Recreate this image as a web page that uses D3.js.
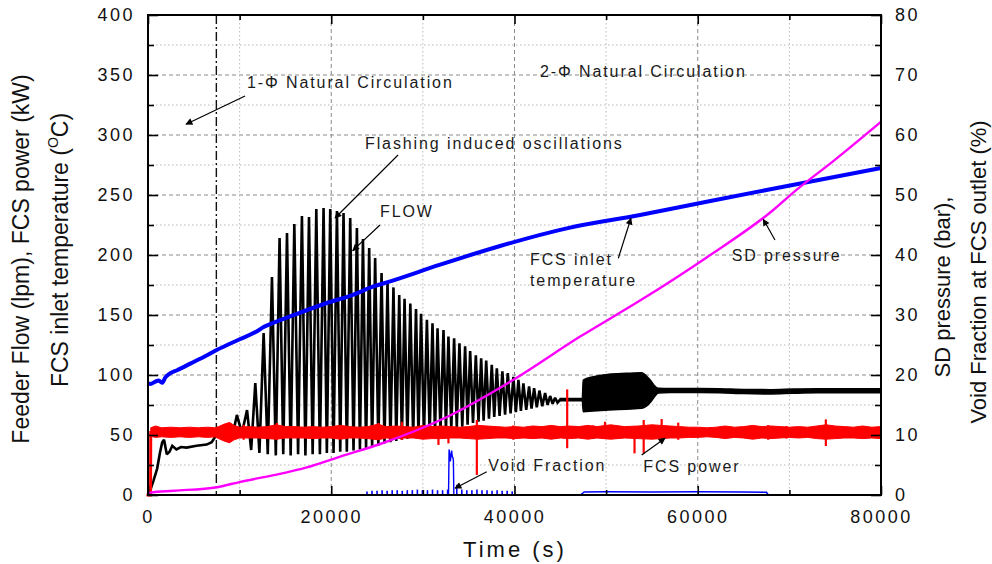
<!DOCTYPE html>
<html>
<head>
<meta charset="utf-8">
<script src="https://cdn.jsdelivr.net/npm/d3@7"></script>
<style>
  body { margin: 0; background: #fff; }
  svg { display: block; font-family: "Liberation Sans", Arial, sans-serif; }
</style>
</head>
<body>
<svg id="chart" width="992" height="564"></svg>
<script>
// ---- axis ticks ----
const xTicksMajor = [0, 20000, 40000, 60000, 80000];
const xTicksMinor = [10000, 30000, 50000, 70000];
const yLeftMajor = [0, 50, 100, 150, 200, 250, 300, 350, 400];
const yLeftMinor = [25, 75, 125, 175, 225, 275, 325, 375];
const yRightMajor = [0, 10, 20, 30, 40, 50, 60, 70, 80];
const yRightMinor = [5, 15, 25, 35, 45, 55, 65, 75];

// boundary between single-phase and two-phase natural circulation (s)
const phaseBoundary = [7460];

// ---- Feeder flow (lpm): start-up, then flashing-induced oscillation peaks/troughs ----
const flowT = [0, 200, 600, 1000, 1300, 1550, 1750, 2050, 2350, 2650, 3100, 3600, 4200, 5300, 6400, 6950, 7300, 7700, 8100, 8500, 8900, 9300,
  9700, 10250, 10810, 11260, 11710, 12160, 12620, 13070, 13530, 13950, 14360, 14760, 15170, 15570, 15970, 16380, 16800, 17180,
  17570, 17970, 18370, 18760, 19160, 19520, 19890, 20250, 20620, 20980, 21340, 21700, 22070, 22430, 22800, 23130, 23460, 23800,
  24140, 24460, 24790, 25140, 25490, 25810, 26140, 26460, 26790, 27100, 27420, 27710, 28000, 28310, 28630, 28940, 29250, 29520,
  29800, 30120, 30440, 30740, 31050, 31320, 31600, 31920, 32250, 32520, 32790, 33100, 33410, 33700, 33990, 34300, 34610, 34880,
  35160, 35470, 35780, 36070, 36360, 36630, 36910, 37210, 37520, 37790, 38070, 38370, 38680, 38970, 39270, 39570, 39880, 40150,
  40430, 40700, 40970, 41280, 41590, 41860, 42140, 42430, 42720, 43030, 43340, 43610, 43890, 44160, 44430, 44700, 44980];
const flowV = [0, 3, 12, 22, 35, 44, 46, 34, 36, 41, 38, 40, 39.5, 41, 42, 44, 48, 51, 49, 52, 49.5, 52,
  66.7, 51.5, 70.8, 37.5, 93.3, 35, 135, 34, 181.7, 33, 214.2, 34, 218.3, 33, 225.8, 34, 232.5, 33,
  231.7, 34, 238.3, 34, 239.2, 35, 238.3, 35, 236.7, 36, 235, 36, 230.8, 37, 222.5, 38, 213.3, 39,
  205.8, 40, 197.5, 41, 185, 43, 178, 44, 173, 45, 166.7, 46, 163.5, 47, 159.5, 48, 155, 49,
  151, 50, 146, 51, 143, 52, 139, 53, 137.5, 54, 132, 55, 130.5, 56, 126.5, 57, 124, 58.5,
  120, 60, 116.5, 61, 114, 62, 112, 63.5, 108.5, 65, 105.5, 66, 103, 67, 101.5, 68, 98.5, 69,
  96, 70, 93, 71, 90.5, 72, 89, 73, 87, 74, 85, 75, 82.5, 76, 81, 77, 79.5];

// later flow: fast small oscillation, given as its upper / lower envelope
const flowBandT = [44980, 47400, 47500, 48600, 50300, 52200, 53900, 54400, 54900, 55200, 55700, 57000, 60000, 62400, 65000, 68000, 70400, 73000, 76000, 80000];
const flowBandHi = [80.5, 80.5, 95.8, 98.6, 100.6, 101.4, 101.9, 99.2, 95, 91.7, 89, 88.8, 88.8, 88.6, 88, 87.8, 88.3, 88.6, 88.6, 88.6];
const flowBandLo = [78.5, 78.5, 69.4, 70, 70.8, 71.5, 72.2, 74, 77.8, 81, 85, 85.5, 85.5, 85.3, 84.5, 84.2, 84.8, 85.2, 85.2, 85.2];

// ---- FCS power (kW): switch-on, then noisy band given by its envelope ----
const powerStartT = [0, 280, 300];
const powerStartV = [0, 0, 52];
const powerT = [300, 800, 1500, 2500, 3500, 4500, 5500, 6500, 7300, 7700, 8300, 8900, 9400, 10000, 11000, 12000, 13000, 14000,
  15000, 16000, 17000, 18000, 19000, 20000, 21000, 22000, 23000, 24000, 25100, 26000, 27000, 28000, 29000, 30000, 31000,
  32000, 33000, 34000, 35000, 36000, 37000, 38000, 39000, 40000, 41000, 42000, 43000, 44000, 45000, 46000, 47000, 48000,
  49000, 50500, 52000, 53500, 55000, 56000, 57000, 58000, 59000, 60000, 61000, 62000, 63000, 64000, 65000, 66000, 67000,
  68000, 69000, 70000, 71000, 72000, 73000, 74000, 75000, 76000, 77000, 78000, 79000, 80000];
const powerHi = [56, 57.5, 56, 56.5, 56, 56.5, 56, 56.5, 56, 57, 59, 60.5, 58, 56.5, 57, 56.5, 57, 58.5,
  57, 57, 56.5, 57, 56.5, 57, 58, 57, 56.5, 57, 59, 57, 57.5, 57, 56.5, 58, 57,
  57.5, 57, 56.5, 57, 58, 57.5, 57, 56.5, 57, 56.5, 57.5, 57, 58, 57, 57.5, 57, 58,
  57, 58.5, 57, 57.5, 58.5, 58, 57.5, 57, 56.5, 56.5, 56, 56.5, 57.5, 56.5, 57, 58, 57,
  57.5, 57, 56.5, 57, 56.5, 57.5, 58.5, 57.5, 57, 56.5, 57.5, 56.5, 57];
const powerLo = [49, 48, 48.5, 48, 48.5, 48, 48.5, 48, 48.5, 47, 45, 43.5, 46, 47.5, 47.5, 47.5, 47, 46.5,
  47.5, 47.5, 47.5, 47, 47.5, 47.5, 46.5, 47.5, 47.5, 47, 46, 47.5, 47, 47.5, 47.5, 46.5, 47,
  47, 47.5, 47.5, 47, 46.5, 47, 47.5, 47.5, 47, 47.5, 47, 47.5, 46.5, 47.5, 47, 47.5, 46.5,
  47.5, 46.5, 47.5, 47, 46.5, 47, 47.5, 47.5, 48, 48, 48.5, 48, 47, 48, 47.5, 46.5, 47.5,
  47, 47.5, 48, 47.5, 48, 47, 46.5, 47, 47.5, 47.5, 47, 47.5, 47];
// isolated excursions of the power signal
const powerSpikeT = [10440, 14080, 25160, 27710, 31700, 32790, 35890, 39880, 45750, 48600, 49880, 53100, 54100, 56060, 57870, 67690, 69690, 73980];
const powerSpikeHi = [58.5, 60, 60, 61, 56, 57, 62.5, 58, 88, 58, 61, 56, 62.5, 63.3, 60.3, 58.3, 57.5, 63];
const powerSpikeLo = [46, 46, 46, 46, 41.7, 43, 16.7, 46, 39, 47, 47, 34.7, 34.7, 47, 46, 46, 47, 40.8];

// ---- FCS inlet temperature (deg C) ----
const tempT = [0, 260, 810, 1170, 1540, 1900, 2440, 3170, 4620, 6440, 7540, 10070, 11900, 12620, 13530, 16260, 19530, 22430, 24540, 26340, 31800, 38430, 45700, 53700, 60970, 67510, 80000];
const tempV = [93, 92.5, 94.5, 95.5, 93.5, 98, 101.5, 104, 109.5, 116.5, 121, 130, 136.5, 140, 143, 151, 160, 167, 173.6, 177.8, 191.7, 207.5, 222.2, 233.3, 244.4, 254.2, 272.5];

// ---- SD pressure (bar, right axis) ----
const pressT = [0, 260, 2800, 7540, 10080, 13710, 17350, 20980, 25340, 32620, 39880, 47160, 53700, 60970, 68240, 70420, 75000, 80000];
const pressV = [0.3, 0.4, 0.7, 1.3, 2.2, 3.3, 4.6, 6.4, 8.5, 13, 19.2, 26.4, 32.4, 39.6, 47.5, 50.4, 55.9, 62.2];

// ---- Void fraction at FCS outlet (%, right axis) ----
const voidPulseT = [23900, 24450, 25000, 25550, 26100, 26650, 27200, 27750, 28300, 28850, 29400, 29950, 30500, 31050, 31600, 32150, 32700, 33700, 34250, 34800, 35350, 35900, 36450, 37000, 37550, 38100, 38650, 39200, 39750];
const voidPulseV = [0.6, 0.7, 0.7, 0.8, 0.7, 0.8, 0.8, 0.7, 0.8, 0.8, 0.9, 0.8, 0.8, 0.9, 0.8, 0.8, 0.9, 1.7, 0.9, 0.8, 0.8, 0.9, 0.8, 0.8, 0.7, 0.8, 0.7, 0.7, 0.6];
const voidSpikeT = [32800, 32860, 32930, 33000, 33070, 33140, 33210, 33280, 33330, 33380];
const voidSpikeV = [0, 7.6, 6.8, 5.6, 6.6, 7.4, 6.4, 6.2, 5.8, 0];
const voidLateT = [47200, 47600, 50000, 55000, 60000, 65000, 67500, 67700];
const voidLateV = [0, 0.5, 0.55, 0.5, 0.55, 0.5, 0.45, 0];

// ---- annotations (data coordinates on the left axis) ----
const notes = [
  { text: "1-\u03A6 Natural Circulation", t: 10800, v: 339.5 },
  { text: "2-\u03A6 Natural Circulation", t: 42780, v: 348 },
  { text: "Flashing induced oscillations", t: 23680, v: 288 },
  { text: "FLOW", t: 25320, v: 231.5 },
  { text: "FCS inlet", t: 41690, v: 191.3 },
  { text: "temperature", t: 41690, v: 173.8 },
  { text: "SD pressure", t: 63700, v: 195.4 },
  { text: "Void Fraction", t: 37140, v: 19.6 },
  { text: "FCS power", t: 54060, v: 19.2 }
];
const arrows = [
  { t0: 10590, v0: 332.5, t1: 4150, v1: 309 },
  { t0: 27290, v0: 283.3, t1: 20410, v1: 230.8 },
  { t0: 25320, v0: 225, t1: 22340, v1: 203.6 },
  { t0: 51330, v0: 197.3, t1: 52710, v1: 230.6 },
  { t0: 68430, v0: 212.5, t1: 67150, v1: 229.8 },
  { t0: 36970, v0: 19.4, t1: 33510, v1: 5.6 },
  { t0: 53880, v0: 33.3, t1: 56430, v1: 47.3 }
];

// ---- layout ----
const svg = d3.select("#chart");
const L = 148, R = 881, T = 15, B = 495;
const x = d3.scaleLinear().domain([0, 80000]).range([L, R]);
const yL = d3.scaleLinear().domain([0, 400]).range([B, T]);
const yR = d3.scaleLinear().domain([0, 80]).range([B, T]);

// grid
const grid = svg.append("g");
grid.selectAll(".hmaj").data(yLeftMajor.slice(1, -1)).join("line")
  .attr("x1", L).attr("x2", R).attr("y1", d => yL(d)).attr("y2", d => yL(d))
  .attr("stroke", "#8a8a8a").attr("stroke-width", 1).attr("stroke-dasharray", "4,3");
grid.selectAll(".hmin").data(yLeftMinor).join("line")
  .attr("x1", L).attr("x2", R).attr("y1", d => yL(d)).attr("y2", d => yL(d))
  .attr("stroke", "#b8b8b8").attr("stroke-width", 1).attr("stroke-dasharray", "1.5,2.5");
grid.selectAll(".vmaj").data(xTicksMajor.slice(1, -1)).join("line")
  .attr("x1", d => x(d)).attr("x2", d => x(d)).attr("y1", T).attr("y2", B)
  .attr("stroke", "#8a8a8a").attr("stroke-width", 1).attr("stroke-dasharray", "4,3");
grid.selectAll(".vmin").data(xTicksMinor).join("line")
  .attr("x1", d => x(d)).attr("x2", d => x(d)).attr("y1", T).attr("y2", B)
  .attr("stroke", "#b8b8b8").attr("stroke-width", 1).attr("stroke-dasharray", "1.5,2.5");

// phase boundary (dash-dot)
svg.selectAll(".phase").data(phaseBoundary).join("line")
  .attr("x1", d => x(d)).attr("x2", d => x(d)).attr("y1", T).attr("y2", B)
  .attr("stroke", "#111").attr("stroke-width", 1.4).attr("stroke-dasharray", "9,3,2,3");

const plot = svg.append("g");

// feeder flow
const flowPts = flowT.map((t, i) => [t, flowV[i]]);
plot.append("path").datum(flowPts)
  .attr("fill", "none").attr("stroke", "#000").attr("stroke-width", 2.6).attr("stroke-linejoin", "miter").attr("stroke-miterlimit", 2)
  .attr("d", d3.line().x(d => x(d[0])).y(d => yL(d[1])));
const bandPts = flowBandT.map((t, i) => [t, flowBandHi[i], flowBandLo[i]]);
plot.append("path").datum(bandPts)
  .attr("fill", "#000").attr("stroke", "#000").attr("stroke-width", 1.5)
  .attr("d", d3.area().curve(d3.curveMonotoneX).x(d => x(d[0])).y0(d => yL(d[2])).y1(d => yL(d[1])));

// FCS inlet temperature
plot.append("path").datum(tempT.map((t, i) => [t, tempV[i]]))
  .attr("fill", "none").attr("stroke", "#0000ff").attr("stroke-width", 4)
  .attr("d", d3.line().curve(d3.curveMonotoneX).x(d => x(d[0])).y(d => yL(d[1])));

// FCS power
plot.append("path").datum(powerStartT.map((t, i) => [t, powerStartV[i]]))
  .attr("fill", "none").attr("stroke", "#ff0000").attr("stroke-width", 3).attr("stroke-linecap", "square")
  .attr("d", d3.line().x(d => x(d[0])).y(d => yL(d[1])));
plot.append("path").datum(powerT.map((t, i) => [t, powerHi[i], powerLo[i]]))
  .attr("fill", "#ff0000").attr("stroke", "#ff0000").attr("stroke-width", 1)
  .attr("d", d3.area().x(d => x(d[0])).y0(d => yL(d[2])).y1(d => yL(d[1])));
plot.selectAll(".pspike").data(powerSpikeT.map((t, i) => [t, powerSpikeHi[i], powerSpikeLo[i]])).join("line")
  .attr("x1", d => x(d[0])).attr("x2", d => x(d[0]))
  .attr("y1", d => yL(d[1])).attr("y2", d => yL(d[2]))
  .attr("stroke", "#ff0000").attr("stroke-width", 2.2);

// SD pressure
plot.append("path").datum(pressT.map((t, i) => [t, pressV[i]]))
  .attr("fill", "none").attr("stroke", "#ff00ff").attr("stroke-width", 2.4)
  .attr("d", d3.line().curve(d3.curveMonotoneX).x(d => x(d[0])).y(d => yR(d[1])));

// void fraction
plot.selectAll(".vpulse").data(voidPulseT.map((t, i) => [t, voidPulseV[i]])).join("line")
  .attr("x1", d => x(d[0])).attr("x2", d => x(d[0]))
  .attr("y1", yR(0)).attr("y2", d => yR(d[1]))
  .attr("stroke", "#0000ff").attr("stroke-width", 1.6);
plot.append("path").datum(voidSpikeT.map((t, i) => [t, voidSpikeV[i]]))
  .attr("fill", "none").attr("stroke", "#0000ff").attr("stroke-width", 1.4)
  .attr("d", d3.line().x(d => x(d[0])).y(d => yR(d[1])));
plot.append("path").datum(voidLateT.map((t, i) => [t, voidLateV[i]]))
  .attr("fill", "none").attr("stroke", "#0000ff").attr("stroke-width", 1.6)
  .attr("d", d3.line().x(d => x(d[0])).y(d => yR(d[1])));

// ---- axes ----
const tickFont = g => g.selectAll("text")
  .attr("font-size", 18).attr("fill", "#111").attr("letter-spacing", "2.5px")
  .attr("font-family", "'Liberation Sans', Arial, sans-serif");
const clean = g => { g.select(".domain").remove(); g.selectAll("line").attr("stroke", "#000").attr("stroke-width", 1.6); };

svg.append("g").attr("transform", `translate(${L},0)`)
  .call(d3.axisLeft(yL).tickValues(yLeftMajor).tickSizeInner(-10).tickSizeOuter(0).tickPadding(13))
  .call(clean).call(tickFont);
svg.append("g").attr("transform", `translate(${L},0)`)
  .call(d3.axisLeft(yL).tickValues(yLeftMinor).tickFormat("").tickSizeInner(-6).tickSizeOuter(0))
  .call(clean);
svg.append("g").attr("transform", `translate(${R},0)`)
  .call(d3.axisRight(yR).tickValues(yRightMajor).tickSizeInner(-10).tickSizeOuter(0).tickPadding(14))
  .call(clean).call(tickFont);
svg.append("g").attr("transform", `translate(${R},0)`)
  .call(d3.axisRight(yR).tickValues(yRightMinor).tickFormat("").tickSizeInner(-6).tickSizeOuter(0))
  .call(clean);
svg.append("g").attr("transform", `translate(0,${B})`)
  .call(d3.axisBottom(x).tickValues(xTicksMajor).tickFormat(d3.format("d")).tickSizeInner(-9).tickSizeOuter(0).tickPadding(15))
  .call(clean).call(tickFont);
svg.append("g").attr("transform", `translate(0,${B})`)
  .call(d3.axisBottom(x).tickValues(xTicksMinor).tickFormat("").tickSizeInner(-5).tickSizeOuter(0))
  .call(clean);
svg.append("g").attr("transform", `translate(0,${T})`)
  .call(d3.axisTop(x).tickValues(xTicksMajor).tickFormat("").tickSizeInner(-9).tickSizeOuter(0))
  .call(clean);
svg.append("g").attr("transform", `translate(0,${T})`)
  .call(d3.axisTop(x).tickValues(xTicksMinor).tickFormat("").tickSizeInner(-5).tickSizeOuter(0))
  .call(clean);

// frame
svg.append("rect").attr("x", L).attr("y", T).attr("width", R - L).attr("height", B - T)
  .attr("fill", "none").attr("stroke", "#000").attr("stroke-width", 2);

// ---- axis titles ----
const titleSize = 23;
svg.append("text").attr("transform", "translate(29,259) rotate(-90)")
  .attr("text-anchor", "middle").attr("font-size", titleSize).attr("fill", "#111")
  .text("Feeder Flow (lpm), FCS power (kW)");
const t2 = svg.append("text").attr("transform", "translate(68,250) rotate(-90)")
  .attr("text-anchor", "middle").attr("font-size", titleSize).attr("fill", "#111");
t2.append("tspan").text("FCS inlet temperature (");
t2.append("tspan").attr("font-size", 14).attr("dy", -10).text("O");
t2.append("tspan").attr("dy", 10).text("C)");

svg.append("text").attr("transform", "translate(950,287) rotate(-90)")
  .attr("text-anchor", "middle").attr("font-size", 22).attr("fill", "#111")
  .text("SD pressure (bar),");
svg.append("text").attr("transform", "translate(986,272) rotate(-90)")
  .attr("text-anchor", "middle").attr("font-size", 22).attr("fill", "#111")
  .text("Void Fraction at FCS outlet (%)");

svg.append("text").attr("x", 515).attr("y", 557)
  .attr("text-anchor", "middle").attr("font-size", 22).attr("letter-spacing", "3px").attr("fill", "#111")
  .text("Time (s)");

// ---- annotations ----
const defs = svg.append("defs");
defs.append("marker").attr("id", "ah").attr("viewBox", "0 0 10 10")
  .attr("refX", 9).attr("refY", 5).attr("markerWidth", 9).attr("markerHeight", 7)
  .attr("markerUnits", "userSpaceOnUse").attr("orient", "auto")
  .append("path").attr("d", "M0,0 L10,5 L0,10 Z").attr("fill", "#000");

svg.selectAll(".arrow").data(arrows).join("line")
  .attr("x1", d => x(d.t0)).attr("y1", d => yL(d.v0))
  .attr("x2", d => x(d.t1)).attr("y2", d => yL(d.v1))
  .attr("stroke", "#000").attr("stroke-width", 1.2).attr("marker-end", "url(#ah)");

svg.selectAll(".note").data(notes).join("text")
  .attr("x", d => x(d.t)).attr("y", d => yL(d.v))
  .attr("font-size", 16).attr("letter-spacing", "1.9px").attr("fill", "#1a1a1a")
  .text(d => d.text);
</script>
</body>
</html>
